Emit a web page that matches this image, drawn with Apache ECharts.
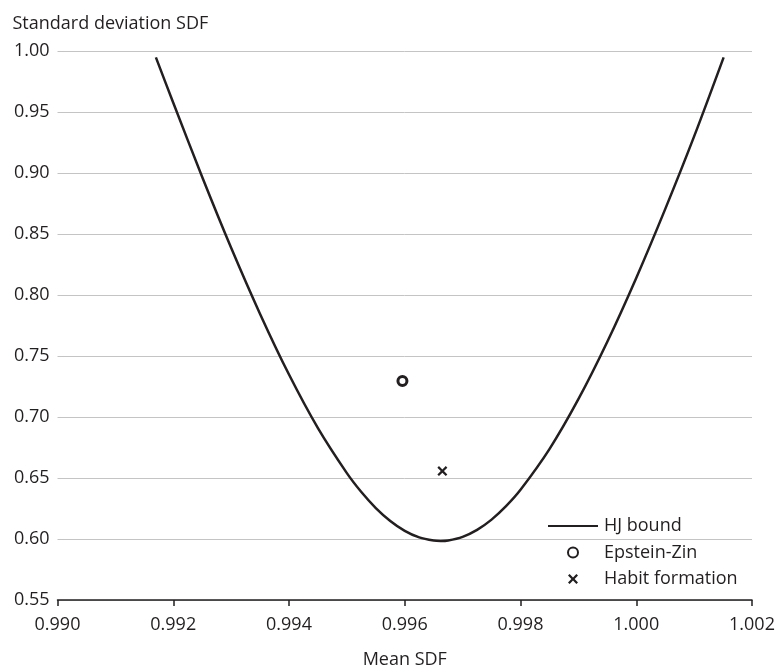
<!DOCTYPE html>
<html>
<head>
<meta charset="utf-8">
<script src="https://cdn.jsdelivr.net/npm/echarts@6/dist/echarts.min.js"></script>
<style>
html,body{margin:0;padding:0;background:#fff;}
#chart{width:778px;height:667px;}
</style>
</head>
<body>
<div id="chart"></div>
<script>
// HJ bound curve: mean SDF and standard deviation SDF
const hjMean = [0.99170, 0.99200, 0.99250, 0.99300, 0.99350, 0.99400, 0.99450, 0.99500, 0.99525, 0.99550, 0.99575, 0.99600, 0.99625, 0.99650, 0.99662, 0.99675, 0.99700, 0.99725, 0.99750, 0.99775, 0.99800, 0.99850, 0.99900, 0.99950, 1.00000, 1.00050, 1.00100, 1.00151];
const hjSd   = [0.9948, 0.9576, 0.8967, 0.8387, 0.7845, 0.7348, 0.6909, 0.6540, 0.6385, 0.6254, 0.6148, 0.6067, 0.6013, 0.5987, 0.5984, 0.5988, 0.6018, 0.6075, 0.6159, 0.6269, 0.6403, 0.6737, 0.7146, 0.7617, 0.8140, 0.8704, 0.9300, 0.9948];
const epsteinZin = [0.99596, 0.7295];
const habitFormation = [0.99665, 0.6557];
const seriesNames = ['HJ bound', 'Epstein-Zin', 'Habit formation'];
const xTicks = [0.990, 0.992, 0.994, 0.996, 0.998, 1.000, 1.002];
const yTicks = [0.55, 0.60, 0.65, 0.70, 0.75, 0.80, 0.85, 0.90, 0.95, 1.00];

const ink = '#231f20';
const font = '"Open Sans", "Noto Sans", sans-serif';
const crossPath = 'path://M0,1.6 L1.6,0 L5,3.4 L8.4,0 L10,1.6 L6.6,5 L10,8.4 L8.4,10 L5,6.6 L1.6,10 L0,8.4 L3.4,5 Z';

const chart = echarts.init(document.getElementById('chart'), null, {renderer: 'canvas'});
chart.setOption({
  animation: false,
  backgroundColor: '#fff',
  textStyle: {fontFamily: font, color: ink},
  grid: {left: 57.5, right: 26, top: 51, bottom: 67, containLabel: false, outerBoundsMode: 'none'},
  legend: {
    orient: 'vertical',
    left: 542,
    top: 511,
    itemWidth: 50,
    itemHeight: 10,
    itemGap: 6.5,
    data: [
      {name: seriesNames[0], itemStyle: {opacity: 0}},
      {name: seriesNames[1]},
      {name: seriesNames[2]}
    ],
    textStyle: {fontFamily: font, fontSize: 18, color: ink, lineHeight: 20, padding: [0, 0, 0, 1]}
  },
  xAxis: {
    type: 'value',
    min: xTicks[0],
    max: xTicks[xTicks.length - 1],
    interval: 0.002,
    name: 'Mean SDF',
    nameLocation: 'middle',
    nameGap: 51,
    nameTextStyle: {fontFamily: font, fontSize: 18, color: ink},
    axisLine: {show: true, lineStyle: {color: ink, width: 1.5}},
    axisTick: {show: true, inside: false, length: 6, lineStyle: {color: ink, width: 1.5}},
    axisLabel: {fontFamily: font, fontSize: 18, color: ink, margin: 16, formatter: v => v.toFixed(3)},
    splitLine: {show: false}
  },
  yAxis: {
    type: 'value',
    min: yTicks[0],
    max: yTicks[yTicks.length - 1],
    interval: 0.05,
    name: 'Standard deviation SDF',
    nameLocation: 'end',
    nameGap: 18,
    nameTextStyle: {fontFamily: font, fontSize: 18, color: ink, align: 'left', padding: [0, 0, 0, -45]},
    axisLine: {show: false},
    axisTick: {show: false},
    axisLabel: {fontFamily: font, fontSize: 18, color: ink, margin: 8, formatter: v => v.toFixed(2)},
    splitLine: {show: true, lineStyle: {color: '#c4c4c4', width: 1}}
  },
  series: [
    {
      name: seriesNames[0],
      type: 'line',
      data: hjMean.map((m, i) => [m, hjSd[i]]),
      smooth: 0.3,
      symbol: 'none',
      lineStyle: {color: ink, width: 2.5},
      itemStyle: {color: ink}
    },
    {
      name: seriesNames[1],
      type: 'scatter',
      data: [epsteinZin],
      symbol: 'circle',
      symbolSize: 9,
      itemStyle: {color: '#fff', borderColor: ink, borderWidth: 3, opacity: 1}
    },
    {
      name: seriesNames[2],
      type: 'scatter',
      data: [habitFormation],
      symbol: crossPath,
      symbolSize: 10,
      itemStyle: {color: ink, opacity: 1}
    }
  ]
});
</script>
</body>
</html>
